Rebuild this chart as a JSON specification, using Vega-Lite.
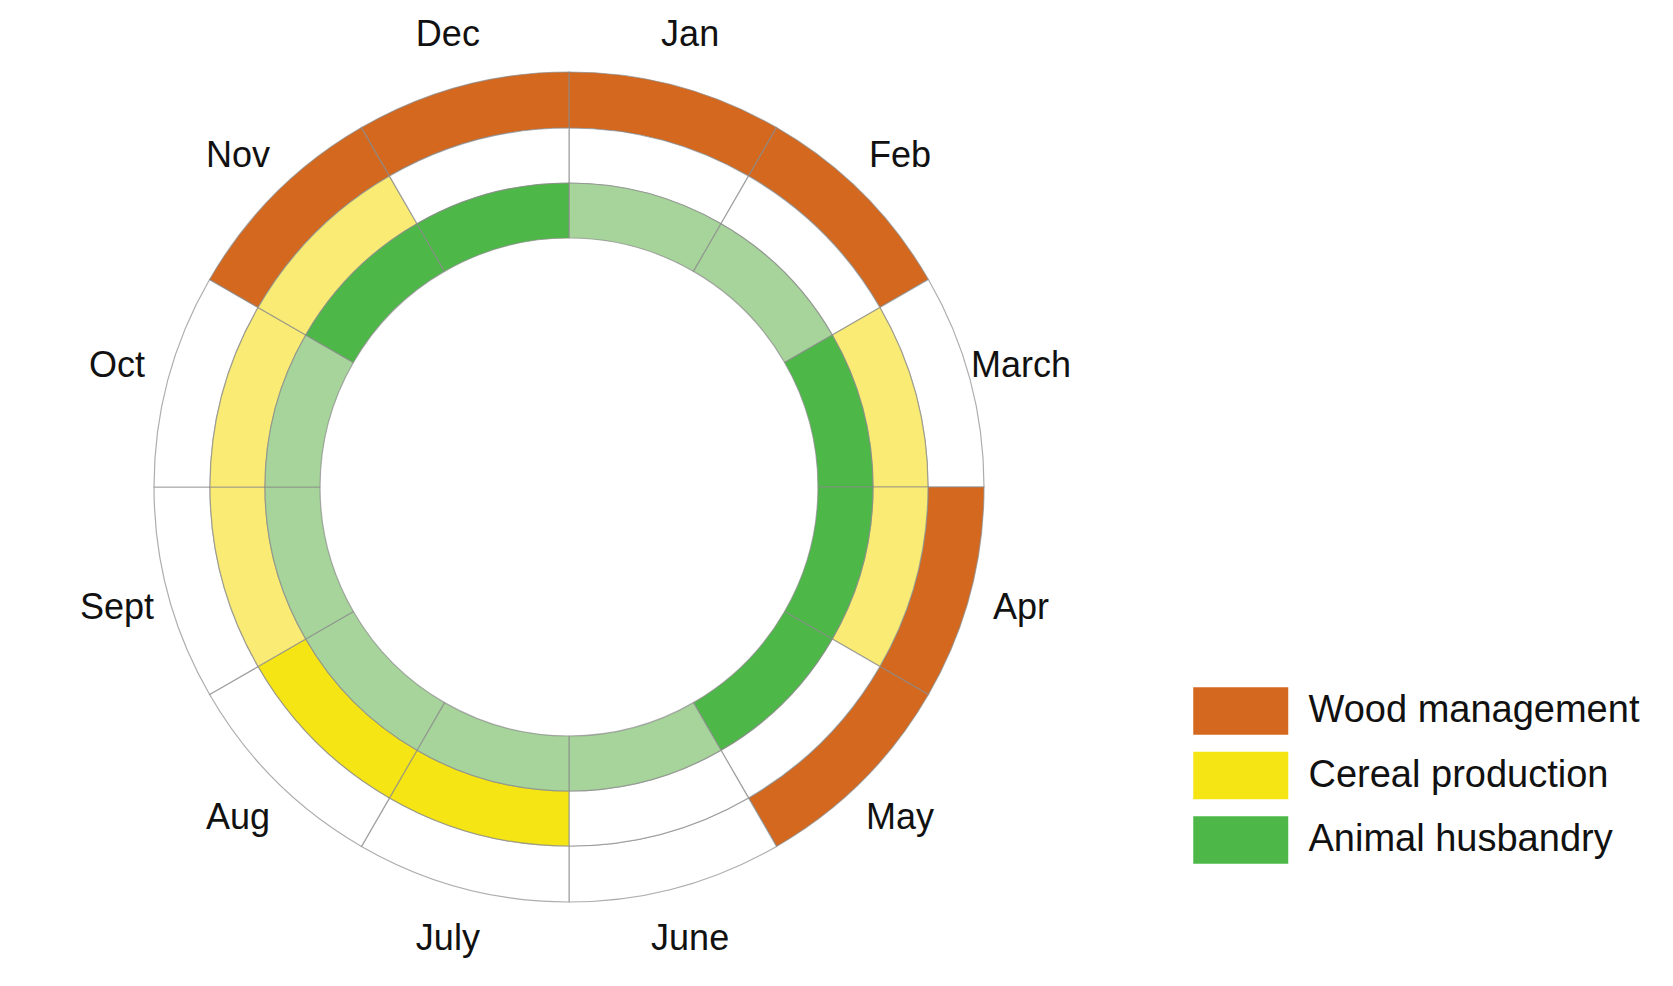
{
  "$schema": "https://vega.github.io/schema/vega-lite/v6.json",
  "width": 1138,
  "height": 974,
  "autosize": "none",
  "padding": {"left": 0, "top": 0, "right": 535, "bottom": 12},
  "background": "white",
  "config": {"view": {"stroke": null}},
  "data": {
    "values": [
      {"month": "Jan", "m0": 0, "m1": 1, "ring": "wood", "status": "Wood management"},
      {"month": "Feb", "m0": 1, "m1": 2, "ring": "wood", "status": "Wood management"},
      {"month": "March", "m0": 2, "m1": 3, "ring": "wood", "status": "none"},
      {"month": "Apr", "m0": 3, "m1": 4, "ring": "wood", "status": "Wood management"},
      {"month": "May", "m0": 4, "m1": 5, "ring": "wood", "status": "Wood management"},
      {"month": "June", "m0": 5, "m1": 6, "ring": "wood", "status": "none"},
      {"month": "July", "m0": 6, "m1": 7, "ring": "wood", "status": "none"},
      {"month": "Aug", "m0": 7, "m1": 8, "ring": "wood", "status": "none"},
      {"month": "Sept", "m0": 8, "m1": 9, "ring": "wood", "status": "none"},
      {"month": "Oct", "m0": 9, "m1": 10, "ring": "wood", "status": "none"},
      {"month": "Nov", "m0": 10, "m1": 11, "ring": "wood", "status": "Wood management"},
      {"month": "Dec", "m0": 11, "m1": 12, "ring": "wood", "status": "Wood management"},
      {"month": "Jan", "m0": 0, "m1": 1, "ring": "cereal", "status": "none"},
      {"month": "Feb", "m0": 1, "m1": 2, "ring": "cereal", "status": "none"},
      {"month": "March", "m0": 2, "m1": 3, "ring": "cereal", "status": "Cereal production (low)"},
      {"month": "Apr", "m0": 3, "m1": 4, "ring": "cereal", "status": "Cereal production (low)"},
      {"month": "May", "m0": 4, "m1": 5, "ring": "cereal", "status": "none"},
      {"month": "June", "m0": 5, "m1": 6, "ring": "cereal", "status": "none"},
      {"month": "July", "m0": 6, "m1": 7, "ring": "cereal", "status": "Cereal production"},
      {"month": "Aug", "m0": 7, "m1": 8, "ring": "cereal", "status": "Cereal production"},
      {"month": "Sept", "m0": 8, "m1": 9, "ring": "cereal", "status": "Cereal production (low)"},
      {"month": "Oct", "m0": 9, "m1": 10, "ring": "cereal", "status": "Cereal production (low)"},
      {"month": "Nov", "m0": 10, "m1": 11, "ring": "cereal", "status": "Cereal production (low)"},
      {"month": "Dec", "m0": 11, "m1": 12, "ring": "cereal", "status": "none"},
      {"month": "Jan", "m0": 0, "m1": 1, "ring": "animal", "status": "Animal husbandry (low)"},
      {"month": "Feb", "m0": 1, "m1": 2, "ring": "animal", "status": "Animal husbandry (low)"},
      {"month": "March", "m0": 2, "m1": 3, "ring": "animal", "status": "Animal husbandry"},
      {"month": "Apr", "m0": 3, "m1": 4, "ring": "animal", "status": "Animal husbandry"},
      {"month": "May", "m0": 4, "m1": 5, "ring": "animal", "status": "Animal husbandry"},
      {"month": "June", "m0": 5, "m1": 6, "ring": "animal", "status": "Animal husbandry (low)"},
      {"month": "July", "m0": 6, "m1": 7, "ring": "animal", "status": "Animal husbandry (low)"},
      {"month": "Aug", "m0": 7, "m1": 8, "ring": "animal", "status": "Animal husbandry (low)"},
      {"month": "Sept", "m0": 8, "m1": 9, "ring": "animal", "status": "Animal husbandry (low)"},
      {"month": "Oct", "m0": 9, "m1": 10, "ring": "animal", "status": "Animal husbandry (low)"},
      {"month": "Nov", "m0": 10, "m1": 11, "ring": "animal", "status": "Animal husbandry"},
      {"month": "Dec", "m0": 11, "m1": 12, "ring": "animal", "status": "Animal husbandry"}
    ]
  },
  "encoding": {
    "theta": {
      "field": "m0",
      "type": "quantitative",
      "stack": null,
      "scale": {"domain": [0, 12], "range": [0, 6.283185307179586]}
    }
  },
  "layer": [
    {
      "transform": [{"filter": "datum.ring == 'wood'"}],
      "mark": {"type": "arc", "radius": 415, "radius2": 359, "stroke": "#8a8a8a", "strokeWidth": 1.2, "strokeOpacity": 0.7},
      "encoding": {
        "theta2": {"field": "m1"},
        "color": {
          "field": "status",
          "type": "nominal",
          "scale": {
            "domain": ["Wood management", "Cereal production", "Animal husbandry", "Cereal production (low)", "Animal husbandry (low)", "none"],
            "range": ["#d4681f", "#f5e514", "#4db848", "#f9eb74", "#a6d49b", "#ffffff"]
          },
          "legend": {
            "values": ["Wood management", "Cereal production", "Animal husbandry"],
            "title": null,
            "orient": "none",
            "legendX": 1193,
            "legendY": 687,
            "direction": "vertical",
            "padding": 0,
            "symbolType": "M-2,-1H2V1H-2Z",
            "symbolSize": 2256,
            "symbolOffset": 23.75,
            "symbolStrokeWidth": 0,
            "symbolOpacity": 1,
            "labelOffset": 43.75,
            "rowPadding": 16.5,
            "labelFont": "Liberation Sans",
            "labelFontSize": 38,
            "labelColor": "#111111",
            "labelLimit": 600
          }
        }
      }
    },
    {
      "transform": [{"filter": "datum.ring == 'cereal'"}],
      "mark": {"type": "arc", "radius": 359, "radius2": 304, "stroke": "#8a8a8a", "strokeWidth": 1.2, "strokeOpacity": 0.7},
      "encoding": {
        "theta2": {"field": "m1"},
        "color": {"field": "status", "type": "nominal"}
      }
    },
    {
      "transform": [{"filter": "datum.ring == 'animal'"}],
      "mark": {"type": "arc", "radius": 304, "radius2": 249, "stroke": "#8a8a8a", "strokeWidth": 1.2, "strokeOpacity": 0.7},
      "encoding": {
        "theta2": {"field": "m1"},
        "color": {"field": "status", "type": "nominal"}
      }
    },
    {
      "transform": [{"filter": "datum.ring == 'wood'"}],
      "mark": {
        "type": "text",
        "radius": 468,
        "thetaOffset": 0.2618,
        "align": "center",
        "baseline": "middle",
        "font": "Liberation Sans",
        "fontSize": 36,
        "color": "#111111"
      },
      "encoding": {
        "text": {"field": "month", "type": "nominal"}
      }
    }
  ]
}
